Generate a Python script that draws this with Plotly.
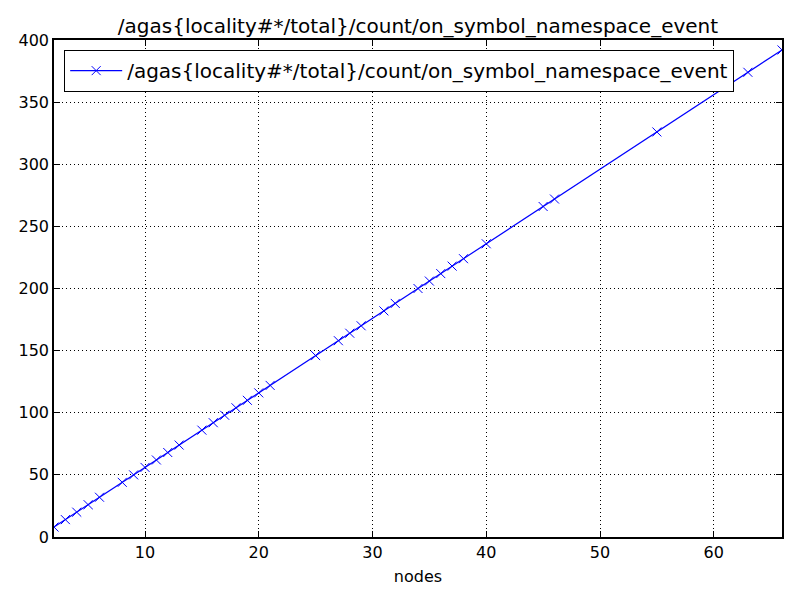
import plotly.graph_objects as go

# 节点数与计数
nodes = [2, 3, 4, 5, 6, 8, 9, 10, 11, 12, 13, 15, 16, 17, 18, 19, 20, 21,
         25, 27, 28, 29, 31, 32, 34, 35, 36, 37, 38, 40, 45, 46, 55, 63, 66]
counts = [8, 14, 20, 26, 32, 44, 50, 56, 62, 68, 74, 86, 92, 98, 104, 110, 116, 122,
          146, 158, 164, 170, 182, 188, 200, 206, 212, 218, 224, 236, 266, 272, 326, 374, 392]
series_name = "/agas{locality#*/total}/count/on_symbol_namespace_event"

font = "DejaVu Sans"

fig = go.Figure()
fig.add_trace(go.Scatter(
    x=nodes, y=counts,
    mode="lines+markers",
    name=series_name,
    line=dict(color="#0000ff", width=1.2),
    marker=dict(symbol="x-thin", size=9, line=dict(color="#0000ff", width=1)),
))

axis_style = dict(
    showline=True, linecolor="black", linewidth=1.5, mirror="ticks",
    ticks="inside", ticklen=6, tickcolor="black",
    showgrid=True, gridcolor="black", griddash="1px,3px", gridwidth=1,
    zeroline=False, automargin=False,
    tickfont=dict(family=font, size=16, color="black"),
)

fig.update_xaxes(range=[2, 66], tickvals=[10, 20, 30, 40, 50, 60],
                 title=dict(text="nodes", font=dict(family=font, size=16, color="black"), standoff=10),
                 **axis_style)
fig.update_yaxes(range=[0, 400], dtick=50, **axis_style)

# 页面 body 有 8px 边距，这里把边距补回来
fig.update_layout(
    width=800, height=600,
    margin=dict(l=46, r=26, t=32, b=71),
    paper_bgcolor="white", plot_bgcolor="white",
    title=dict(text=series_name, x=0.5125, xanchor="center", y=0.97, yanchor="middle",
               font=dict(family=font, size=20, color="black")),
    legend=dict(x=0.0137, y=0.98, xanchor="left", yanchor="top",
                bgcolor="white", bordercolor="black", borderwidth=1.2,
                itemwidth=52,
                font=dict(family=font, size=20, color="black")),
    showlegend=True,
)

fig.write_html("out.html")
